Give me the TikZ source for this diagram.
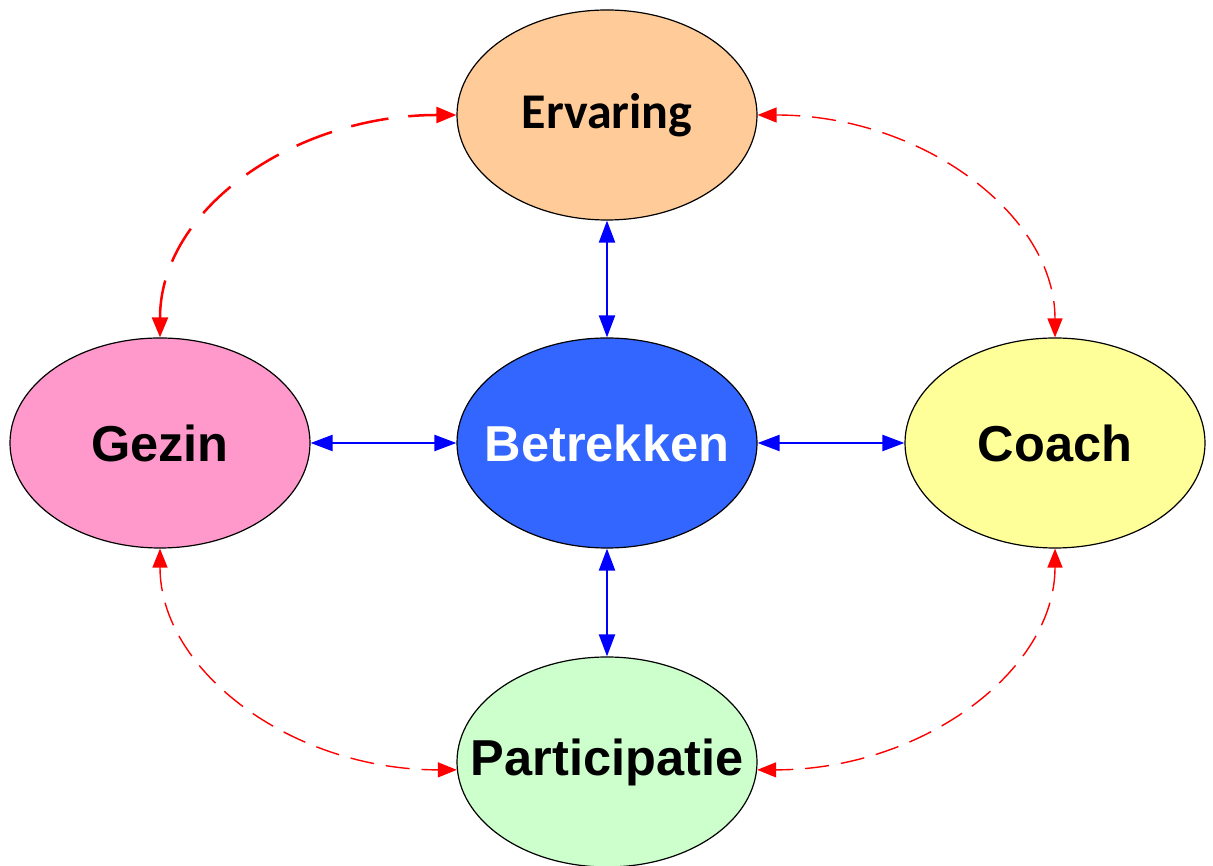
\documentclass[tikz,border=0pt]{standalone}
\usepackage{fontspec}
\setmainfont{Liberation Sans}
\newfontfamily\carl{Carlito}
\usetikzlibrary{shapes.geometric,arrows.meta}
\definecolor{cErv}{HTML}{FFCC99}
\definecolor{cGez}{HTML}{FF99CC}
\definecolor{cBet}{HTML}{3366FF}
\definecolor{cCoa}{HTML}{FFFF99}
\definecolor{cPar}{HTML}{CCFFCC}
\tikzset{
  oval/.style={ellipse, draw=black, line width=1.2pt, minimum width=300pt, minimum height=210pt, inner sep=0pt, font=\fontsize{50.5}{56}\selectfont\bfseries},
  bluearr/.style={draw=blue, line width=2.2pt, {Triangle[length=22pt,width=16pt]}-{Triangle[length=22pt,width=16pt]}},
  redthick/.style={draw=red, line width=2.5pt, dash pattern=on 38pt off 20pt, {Triangle[length=20pt,width=16pt]}-{Triangle[length=20pt,width=16pt]}},
  redthin/.style={draw=red, line width=1.4pt, dash pattern=on 24pt off 12pt, {Triangle[length=19pt,width=15pt]}-{Triangle[length=19pt,width=15pt]}}
}
\begin{document}
\begin{tikzpicture}[x=1pt,y=1pt]
\useasboundingbox (0,0) rectangle (1213,865);
\node[oval, fill=cErv, font=\fontsize{50}{56}\selectfont\carl\bfseries] (erv) at (607,750) {\makebox[0pt]{\raisebox{-2pt}{Ervaring}}};
\node[oval, fill=cGez] (gez) at (160,422) {\makebox[0pt]{Gezin}};
\node[oval, fill=cBet, text=white] (bet) at (607,422) {\makebox[0pt]{Betrekken}};
\node[oval, fill=cCoa] (coa) at (1055,422) {\makebox[0pt]{Coach}};
\node[oval, fill=cPar] (par) at (607,103) {\makebox[0pt]{Participatie}};
\draw[bluearr] (erv.south) -- (bet.north);
\draw[bluearr] (bet.south) -- (par.north);
\draw[bluearr] (gez.east) -- (bet.west);
\draw[bluearr] (bet.east) -- (coa.west);
\draw[redthick] (gez.north) .. controls +(0,130) and +(-160,0) .. (erv.west);
\draw[redthin] (erv.east) .. controls +(164,0) and +(0,123) .. (coa.north);
\draw[redthin] (gez.south) .. controls +(0,-123) and +(-164,0) .. (par.183.4);
\draw[redthin] (coa.south) .. controls +(0,-123) and +(164,0) .. (par.-3.4);
\end{tikzpicture}
\end{document}
